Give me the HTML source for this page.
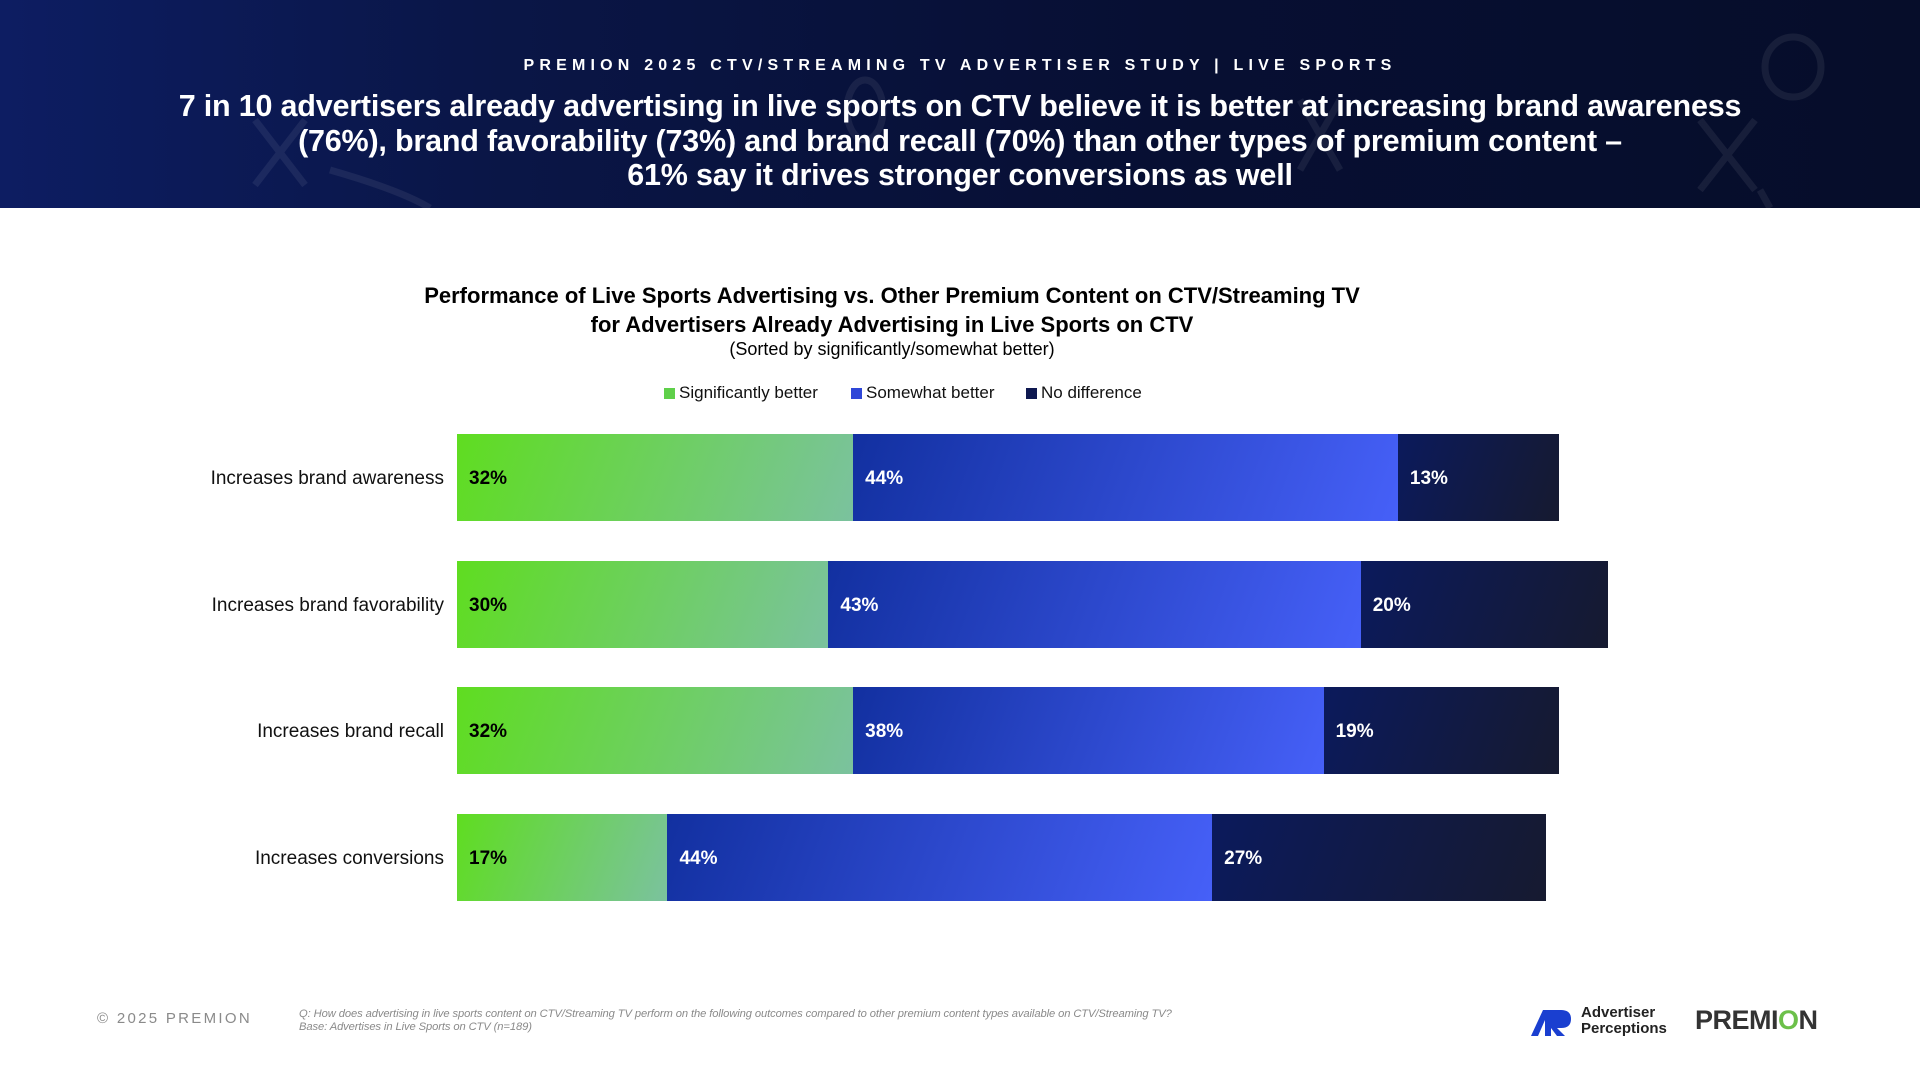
<!DOCTYPE html>
<html><head><meta charset="utf-8">
<style>
body{margin:0;width:1920px;height:1080px;background:#fff;font-family:"Liberation Sans",sans-serif;position:relative;overflow:hidden}
.hdr{position:absolute;left:0;top:0;width:1920px;height:208px;background:linear-gradient(90deg,#0d1d62 0%,#0a1647 25%,#070f33 60%,#060d2a 100%);overflow:hidden}
.abs{position:absolute}
.sub{left:0;width:1920px;top:57px;text-align:center;color:#fff;font-weight:bold;font-size:16px;letter-spacing:5.2px}
.head{left:0;width:1920px;top:89px;text-align:center;color:#fff;font-weight:bold;font-size:30.5px;line-height:34.5px;letter-spacing:-0.2px}
.ct{left:0;width:1784px;text-align:center;color:#000}
.lbl{right:1476px;text-align:right;font-size:19px;color:#111;white-space:nowrap}
.val{font-weight:bold;font-size:19px}
.leg{top:383px;font-size:17px;color:#111}
.leg span{display:inline-block;width:11px;height:11px;margin-right:4px;vertical-align:-1px}
</style></head><body>
<div class="hdr">
<svg class="abs" style="left:0;top:0" width="1920" height="208">
<g stroke="#ffffff" stroke-opacity="0.07" stroke-width="7" fill="none">
<ellipse cx="1793" cy="67" rx="28" ry="30"/>
<ellipse cx="865" cy="110" rx="18" ry="30"/>
<path d="M255 120 L305 185 M305 120 L255 185"/>
<path d="M1700 120 L1755 190 M1755 120 L1700 190"/>
<path d="M1300 100 L1340 170 M1340 100 L1300 170"/>
<path d="M330 170 Q400 190 430 208"/>
<path d="M1760 190 L1770 208"/>
</g></svg>
<div class="abs sub">PREMION 2025 CTV/STREAMING TV ADVERTISER STUDY | LIVE SPORTS</div>
<div class="abs head">7 in 10 advertisers already advertising in live sports on CTV believe it is better at increasing brand awareness<br>(76%), brand favorability (73%) and brand recall (70%) than other types of premium content –<br>61% say it drives stronger conversions as well</div>
</div>
<div class="abs ct" style="top:281px;font-size:22px;font-weight:bold;line-height:29px">Performance of Live Sports Advertising vs. Other Premium Content on CTV/Streaming TV<br>for Advertisers Already Advertising in Live Sports on CTV</div>
<div class="abs ct" style="top:339px;font-size:18px">(Sorted by significantly/somewhat better)</div>
<div class="abs leg" style="left:664px"><span style="background:#5fd04a"></span>Significantly better</div>
<div class="abs leg" style="left:851px"><span style="background:#2f47d8"></span>Somewhat better</div>
<div class="abs leg" style="left:1026px"><span style="background:#0e1850"></span>No difference</div>
<div id="chart"></div>
<div class="abs" style="left:97px;top:1010px;font-size:15px;letter-spacing:2.3px;color:#8a8a8a">© 2025 PREMION</div>
<div class="abs" style="left:299px;top:1008px;font-size:11.2px;font-style:italic;color:#8a8a8a;line-height:13px;letter-spacing:-0.1px">Q: How does advertising in live sports content on CTV/Streaming TV perform on the following outcomes compared to other premium content types available on CTV/Streaming TV?<br>Base: Advertises in Live Sports on CTV (n=189)</div>
<div class="abs" style="left:1531px;top:1005px">
<svg width="42" height="30" style="position:absolute;left:0;top:3px"><path d="M0 28 L12 2 L20 2 L20 28 L14 28 L14 12 L7 28Z" fill="#1a3fd0"/><path d="M20 2 L30 2 Q40 2 40 11 Q40 20 30 20 L26 20 L34 28 L26 28 L20 20Z" fill="#1a3fd0"/></svg>
<div style="position:absolute;left:50px;top:0;font-size:15px;font-weight:bold;line-height:16px;color:#222">Advertiser<br>Perceptions</div></div>
<div class="abs" style="left:1695px;top:1005px;font-size:27px;font-weight:bold;color:#333;letter-spacing:-0.5px">PREMI<span style="color:#6cc04a">O</span>N</div>
<script>
const categories=["Increases brand awareness","Increases brand favorability","Increases brand recall","Increases conversions"];
const significantly=[32,30,32,17];
const somewhat=[44,43,38,44];
const noDifference=[13,20,19,27];
const X0=457, PX=12.38, TOPS=[434,561,687,814], H=87;
const fills=["linear-gradient(110deg,#5fdd20,#7bc29e)","linear-gradient(110deg,#1230a0,#4660f8)","linear-gradient(110deg,#0b1a5c,#161a30)"];
const xs=v=>v*PX;
const c=document.getElementById('chart');
categories.forEach((cat,i)=>{
  const l=document.createElement('div');
  
  
  l.className='abs lbl';l.style.top=(TOPS[i]+H/2-10)+'px';l.textContent=cat;c.appendChild(l);
  let acc=0;
  [significantly[i],somewhat[i],noDifference[i]].forEach((v,k)=>{
    const b=document.createElement('div');
    
    
    b.className='abs';
    b.style.cssText=`left:${X0+xs(acc)}px;top:${TOPS[i]}px;width:${xs(v)}px;height:${H}px;background:${fills[k]}`;
    const t=document.createElement('div');
    
    
    t.className='abs val';t.style.left='12px';t.style.top=(H/2-9.5)+'px';
    t.style.color=k==0?'#000':'#fff';t.textContent=v+'%';
    b.appendChild(t);c.appendChild(b);acc+=v;
  });
});
</script>
</body></html>
